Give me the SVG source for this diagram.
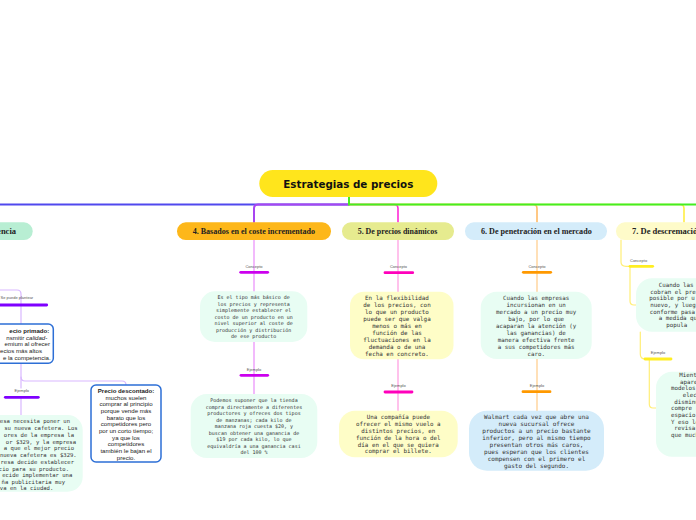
<svg xmlns="http://www.w3.org/2000/svg" width="696" height="520" viewBox="0 0 696 520">
<style>
.hd{font-family:"Liberation Serif",serif;font-weight:bold;font-size:8.5px;fill:#222}
.mono{font-family:"DejaVu Sans Mono","Liberation Mono",monospace;fill:#333}
.sans{font-family:"Liberation Sans",Arial,sans-serif;fill:#222}
.lbl{font-family:"Liberation Sans",Arial,sans-serif;font-size:4px;fill:#555}
.ln{fill:none;stroke-linecap:round}
.bar{stroke-width:2.8;stroke-linecap:round}
.pbox{fill:#fff;stroke:#2D6FD6;stroke-width:1.5}
</style>
<rect width="696" height="520" fill="#fff"/>

<g id="connectors">
  <path class="ln" d="M349,204.5 H0" stroke="#5048EE" stroke-width="2"/>
  <path class="ln" d="M349,204.5 H258 Q254,204.5 254,208.5 V222" stroke="#A845F0" stroke-width="2"/>
  <path class="ln" d="M349,204.5 H394 Q398,204.5 398,208.5 V222" stroke="#FF2BD6" stroke-width="1.6"/>
  <path class="ln" d="M349,204.5 H533 Q537,204.5 537,208.5 V222" stroke="#FFBB66" stroke-width="1.6"/>
  <path class="ln" d="M349,204.5 H680 Q684,204.5 684,208.5 V222" stroke="#FFEE44" stroke-width="1.6"/>
  <path class="ln" d="M349,197 V204.5 H696" stroke="#44EE22" stroke-width="2"/>

  <path class="ln" d="M0,290 H17 Q21,290 21,294 V305" stroke="#D9B8FF" stroke-width="1.2"/>
  <path class="ln" d="M21,305 V324" stroke="#D9B8FF" stroke-width="1.2"/>
  <path class="ln" d="M21,363 V388" stroke="#D9B8FF" stroke-width="1.2"/>
  <path class="ln" d="M21,377 Q21,381 25,381 H122 Q126,381 126,385" stroke="#D9B8FF" stroke-width="1.2"/>
  <path class="ln" d="M21,398 V416" stroke="#D9B8FF" stroke-width="1.2"/>
  <line class="bar" x1="0" y1="305" x2="46.7" y2="305" stroke="#7F00FF"/>
  <line class="bar" x1="5.3" y1="397.3" x2="38.3" y2="397.3" stroke="#7F00FF"/>

  <path class="ln" d="M254,240 V394" stroke="#E98CFA" stroke-width="1.2"/>
  <line class="bar" x1="240.7" y1="272.3" x2="267.7" y2="272.3" stroke="#CC00EE"/>
  <line class="bar" x1="241" y1="375.3" x2="267.7" y2="375.3" stroke="#CC00EE"/>

  <path class="ln" d="M398,240 V411" stroke="#FF99E0" stroke-width="1.2"/>
  <line class="bar" x1="385" y1="272.7" x2="412.7" y2="272.7" stroke="#FF00BB"/>
  <line class="bar" x1="385" y1="392" x2="412" y2="392" stroke="#FF00BB"/>

  <path class="ln" d="M537,240 V411" stroke="#FFCC88" stroke-width="1.2"/>
  <line class="bar" x1="523.3" y1="272.3" x2="550.7" y2="272.3" stroke="#FF9900"/>
  <line class="bar" x1="523" y1="391.7" x2="550" y2="391.7" stroke="#FF9900"/>

  <path class="ln" d="M621,240 V262 Q621,266.3 626,266.3 H630" stroke="#FFEE77" stroke-width="1.2"/>
  <path class="ln" d="M630,266.3 V301 Q630,305 634,305 H636" stroke="#FFEE77" stroke-width="1.2"/>
  <path class="ln" d="M640.3,332 V354 Q640.3,359 645,359" stroke="#FFEE77" stroke-width="1.2"/>
  <path class="ln" d="M649.3,359 V404 Q649.3,408 653,408 H656" stroke="#FFEE77" stroke-width="1.2"/>
  <line class="bar" x1="630" y1="266.3" x2="652.7" y2="266.3" stroke="#FFEE22"/>
  <line class="bar" x1="645" y1="359" x2="671" y2="359" stroke="#FFEE22"/>
</g>

<g id="title">
  <rect x="259.3" y="170" width="178" height="27" rx="13.5" fill="#FFE51C"/>
  <text x="348.3" y="188" text-anchor="middle" font-family="DejaVu Sans,sans-serif" font-weight="bold" font-size="10" fill="#111" textLength="130" lengthAdjust="spacingAndGlyphs">Estrategias de precios</text>
</g>

<g id="heading3">
  <rect x="-60" y="222.3" width="92.7" height="17.7" rx="8.8" fill="#B8EED3"/>
  <text class="hd" x="16" y="233.8" text-anchor="end">3. Basados en la competencia</text>
</g>
<g id="heading4">
  <rect x="177" y="222.3" width="154" height="17.7" rx="8.8" fill="#FDB71A"/>
  <text class="hd" x="192.7" y="233.8" textLength="122.3" lengthAdjust="spacingAndGlyphs">4. Basados en el coste incrementado</text>
</g>
<g id="heading5">
  <rect x="342" y="222.3" width="112" height="17.7" rx="8.8" fill="#E6EB8F"/>
  <text class="hd" x="357.7" y="233.8" textLength="79.6" lengthAdjust="spacingAndGlyphs">5. De precios dinámicos</text>
</g>
<g id="heading6">
  <rect x="465" y="222.3" width="142" height="17.7" rx="8.8" fill="#D4ECFA"/>
  <text class="hd" x="481" y="233.8" textLength="110.7" lengthAdjust="spacingAndGlyphs">6. De penetración en el mercado</text>
</g>
<g id="heading7">
  <rect x="616" y="222.3" width="120" height="17.7" rx="8.8" fill="#FEFBC9"/>
  <text class="hd" x="632" y="233.8">7. De descremación</text>
</g>

<g id="lbl-plantear"><text class="lbl" x="0.5" y="299.2">Se puede plantear</text></g>
<g id="precio-primado">
  <rect class="pbox" x="-12" y="324" width="65.3" height="39.3" rx="5"/>
  <g class="sans" font-size="6.1" text-anchor="end">
    <text x="49.3" y="332.8" font-weight="bold">ecio primado:</text>
    <text x="47.3" y="339.8">nsmitir <tspan font-style="italic">calidad-</tspan></text>
    <text x="50" y="346.4">emium al ofrecer</text>
    <text x="42" y="353.1">ecios más altos</text>
    <text x="50.7" y="359.8">e la competencia.</text>
  </g>
</g>
<g id="lbl-ejemplo3"><text class="lbl" x="21.8" y="391.5" text-anchor="middle">Ejemplo</text></g>
<g id="precio-descontado">
  <rect class="pbox" x="91" y="385" width="70" height="77" rx="5"/>
  <g class="sans" font-size="6.1" text-anchor="middle">
    <text x="126" y="393.1" font-weight="bold">Precio descontado:</text>
    <text x="126" y="399.8">muchos suelen</text>
    <text x="126" y="406.4">comprar al principio</text>
    <text x="126" y="413.1">porque  vende más</text>
    <text x="126" y="419.8">barato que los</text>
    <text x="126" y="426.4">competidores pero</text>
    <text x="126" y="433.1">por un corto tiempo;</text>
    <text x="126" y="439.8">ya que los</text>
    <text x="126" y="446.4">competidores</text>
    <text x="126" y="453.1">también le bajan el</text>
    <text x="126" y="459.8">precio.</text>
  </g>
</g>
<g id="ejemplo3">
  <rect x="-40" y="415" width="122.7" height="76.7" rx="15" fill="#E8FDF3"/>
  <g class="mono" font-size="5.55" text-anchor="end">
    <text x="70" y="423">esa necesita poner un</text>
    <text x="77.7" y="430">su nueva cafetera. Los</text>
    <text x="74" y="436.7">ores de la empresa la</text>
    <text x="76" y="443.7">or $329, y la empresa</text>
    <text x="74" y="450.3">a que el mejor precio</text>
    <text x="76.7" y="457.3">nueva cafetera es $329.</text>
    <text x="74" y="464.3">resa decide establecer</text>
    <text x="69" y="470.7">cio para su producto.</text>
    <text x="72.3" y="477.3">ecide implementar una</text>
    <text x="65" y="483.7">ña publicitaria muy</text>
    <text x="53.3" y="489.7">tiva en la ciudad.</text>
  </g>
</g>

<g id="lbl-concepto4"><text class="lbl" x="254" y="268.2" text-anchor="middle">Concepto</text></g>
<g id="concepto4">
  <rect x="200" y="291.3" width="107.3" height="50.7" rx="15" fill="#E8FDF3"/>
  <g class="mono" font-size="5" text-anchor="middle">
    <text x="253.7" y="298.5">Es el tipo más básico de</text>
    <text x="253.7" y="305.5">los precios y representa</text>
    <text x="253.7" y="312">simplemente establecer el</text>
    <text x="253.7" y="318.5">costo de un producto en un</text>
    <text x="253.7" y="325">nivel superior al coste de</text>
    <text x="253.7" y="331.7">producción y distribución</text>
    <text x="253.7" y="338">de ese producto</text>
  </g>
</g>
<g id="lbl-ejemplo4"><text class="lbl" x="254" y="370.8" text-anchor="middle">Ejemplo</text></g>
<g id="ejemplo4">
  <rect x="190.7" y="394" width="126.6" height="64" rx="16" fill="#E8FDF3"/>
  <g class="mono" font-size="5" text-anchor="middle">
    <text x="254" y="401.5">Podemos suponer que la tienda</text>
    <text x="254" y="408.7">compra directamente a diferentes</text>
    <text x="254" y="414.8">productores y ofreces dos tipos</text>
    <text x="254" y="421.7">de manzanas; cada kilo de</text>
    <text x="254" y="428.4">manzana roja cuesta $20, y</text>
    <text x="254" y="434.8">buscan obtener una ganancia de</text>
    <text x="254" y="441.4">$19 por cada kilo, lo que</text>
    <text x="254" y="448">equivaldría a una ganancia casi</text>
    <text x="254" y="454.4">del 100 %</text>
  </g>
</g>

<g id="lbl-concepto5"><text class="lbl" x="398.5" y="267.5" text-anchor="middle">Concepto</text></g>
<g id="concepto5">
  <rect x="350" y="291.7" width="103.5" height="67.6" rx="14" fill="#FEFDC7"/>
  <g class="mono" font-size="5.9" text-anchor="middle">
    <text x="397" y="299.7">En la flexibilidad</text>
    <text x="397" y="307.3">de los precios, con</text>
    <text x="397" y="314.3">lo que un producto</text>
    <text x="397" y="321">puede ser que valga</text>
    <text x="397" y="328">menos o más en</text>
    <text x="397" y="335.3">función de las</text>
    <text x="397" y="342.3">fluctuaciones en la</text>
    <text x="397" y="349.3">demanda o de una</text>
    <text x="397" y="356">fecha en concreto.</text>
  </g>
</g>
<g id="lbl-ejemplo5"><text class="lbl" x="398.5" y="386.5" text-anchor="middle">Ejemplo</text></g>
<g id="ejemplo5">
  <rect x="339" y="410.7" width="118.7" height="46.6" rx="16" fill="#FEFDC7"/>
  <g class="mono" font-size="5.85" text-anchor="middle">
    <text x="398.3" y="419">Una compañía puede</text>
    <text x="398.3" y="426.3">ofrecer el mismo vuelo a</text>
    <text x="398.3" y="433.3">distintos precios, en</text>
    <text x="398.3" y="440">función de la hora o del</text>
    <text x="398.3" y="446.7">día en el que se quiera</text>
    <text x="398.3" y="453.3">comprar el billete.</text>
  </g>
</g>

<g id="lbl-concepto6"><text class="lbl" x="537" y="268.2" text-anchor="middle">Concepto</text></g>
<g id="concepto6">
  <rect x="480.7" y="291.7" width="111" height="67.3" rx="16" fill="#E8FDF3"/>
  <g class="mono" font-size="5.8" text-anchor="middle">
    <text x="536.2" y="299.7">Cuando las empresas</text>
    <text x="536.2" y="307">incursionan en un</text>
    <text x="536.2" y="314">mercado a un precio muy</text>
    <text x="536.2" y="321">bajo, por lo que</text>
    <text x="536.2" y="328">acaparan la atención (y</text>
    <text x="536.2" y="335">las ganancias) de</text>
    <text x="536.2" y="342">manera efectiva frente</text>
    <text x="536.2" y="349">a sus competidores más</text>
    <text x="536.2" y="356.3">caro.</text>
  </g>
</g>
<g id="lbl-ejemplo6"><text class="lbl" x="537" y="386.8" text-anchor="middle">Ejemplo</text></g>
<g id="ejemplo6">
  <rect x="469" y="410.7" width="135" height="60" rx="18" fill="#D4ECFA"/>
  <g class="mono" font-size="6" text-anchor="middle">
    <text x="536.5" y="419">Walmart cada vez que abre una</text>
    <text x="536.5" y="426">nueva sucursal ofrece</text>
    <text x="536.5" y="433.3">productos a un precio bastante</text>
    <text x="536.5" y="440.3">inferior, pero al mismo tiempo</text>
    <text x="536.5" y="447.3">presentan otros más caros,</text>
    <text x="536.5" y="454.3">pues esperan que los clientes</text>
    <text x="536.5" y="461.3">compensen con el primero el</text>
    <text x="536.5" y="468.3">gasto del segundo.</text>
  </g>
</g>

<g id="lbl-concepto7"><text class="lbl" x="630" y="261.5">Concepto</text></g>
<g id="concepto7">
  <rect x="636" y="278.3" width="100" height="53.4" rx="16" fill="#E8FDF3"/>
  <g class="mono" font-size="5.8">
    <text x="658.7" y="287">Cuando las</text>
    <text x="650.3" y="293.7">cobran el pre</text>
    <text x="649.3" y="300.3">posible por u</text>
    <text x="650.3" y="307">nuevo, y lueg</text>
    <text x="649.7" y="313.7">conforme pasa</text>
    <text x="658.7" y="320.3">a medida qu</text>
    <text x="666.3" y="327">popula</text>
  </g>
</g>
<g id="lbl-ejemplo7"><text class="lbl" x="658" y="354.2" text-anchor="middle">Ejemplo</text></g>
<g id="ejemplo7">
  <rect x="656" y="371.7" width="80" height="85" rx="16" fill="#E8FDF3"/>
  <g class="mono" font-size="5.8">
    <text x="679.3" y="377">Mient</text>
    <text x="680" y="383.7">aparec</text>
    <text x="671" y="390.3">modelos,</text>
    <text x="682.7" y="397">elect</text>
    <text x="674.3" y="403.7">disminu</text>
    <text x="671" y="410.3">compre r</text>
    <text x="671" y="417">espacio a</text>
    <text x="671" y="423.7">Y eso lo</text>
    <text x="674.3" y="430.3">revisar</text>
    <text x="671" y="437">que mucha</text>
  </g>
</g>
</svg>
